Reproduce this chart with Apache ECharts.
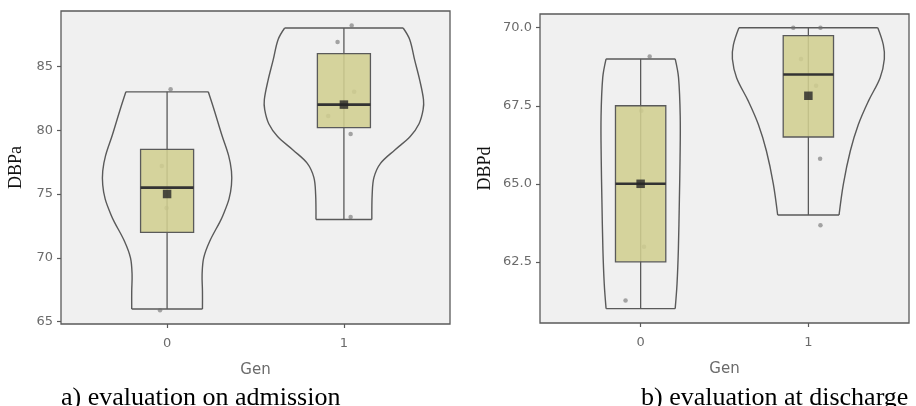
<!DOCTYPE html>
<html>
<head>
<meta charset="utf-8">
<script src="https://cdn.jsdelivr.net/npm/echarts@6/dist/echarts.min.js"></script>
<style>
html,body{margin:0;padding:0;background:#fff;}
#chart{width:916px;height:406px;}
</style>
</head>
<body>
<div id="chart"></div>
<script>
// ---- data ----
const genLabels = ['0', '1'];

// panel a) DBPa : [min, q1, median, q3, max]
const boxA = [[66, 72, 75.5, 78.5, 83], [73, 80.2, 82, 86, 88]];
const meanA = [75, 82];
// jittered raw points [gen + jitter, value]
const pointsA = [
  [0.02, 83.2], [-0.03, 77.2], [-0.003, 73.9], [-0.04, 65.9],
  [1.044, 88.2], [0.964, 86.9], [1.058, 83.0], [0.911, 81.1], [1.038, 79.7], [1.038, 73.2]
];
// violin outlines [value, half width] from top to bottom
const violinA0 = [[83.0, 0.233], [81.5, 0.268], [79.6, 0.31], [78.0, 0.348], [76.8, 0.364], [75.7, 0.364],
  [74.6, 0.35], [73.3, 0.315], [72.8, 0.298], [71.3, 0.241], [70.0, 0.207], [68.7, 0.198], [67.4, 0.2], [66.0, 0.2]];
const violinA1 = [[88.0, 0.335], [87.1, 0.372], [85.5, 0.40], [83.9, 0.429], [82.4, 0.45], [81.6, 0.448],
  [80.5, 0.425], [79.5, 0.375], [78.45, 0.288], [77.4, 0.207], [76.3, 0.17], [75.0, 0.16], [73.0, 0.158]];
const ticksA = [65, 70, 75, 80, 85];

// panel b) DBPd
const boxB = [[61, 62.5, 65, 67.5, 69], [64, 66.5, 68.5, 69.75, 70]];
const meanB = [65, 67.82];
const pointsB = [
  [0.054, 69.08], [0.004, 67.34], [0.02, 62.98], [-0.09, 61.26],
  [0.91, 70.0], [1.072, 70.0], [0.956, 69.0], [1.046, 68.14], [1.07, 65.8], [1.072, 63.67]
];
const violinB0 = [[69.0, 0.206], [68.4, 0.226], [67.15, 0.236], [65.8, 0.235], [64.5, 0.231], [62.9, 0.225],
  [61.8, 0.217], [61.0, 0.206]];
const violinB1 = [[70.0, 0.414], [69.45, 0.447], [69.0, 0.453], [68.4, 0.428], [67.65, 0.358], [66.9, 0.298],
  [66.05, 0.25], [65.0, 0.209], [64.0, 0.183]];
const ticksB = [62.5, 65, 67.5, 70];

// ---- styles ----
const LINE = '#5a5a5a';
const BOXFILL = 'rgba(208,206,143,0.88)';
const BOXW = 0.3;

function violinRender(profiles) {
  return function (params, api) {
    const x = api.value(0);
    const prof = profiles[params.dataIndex];
    const left = prof.map(p => api.coord([x - p[1], p[0]]));
    const right = prof.map(p => api.coord([x + p[1], p[0]]));
    const n = prof.length;
    const st = { stroke: LINE, lineWidth: 1.4, fill: null };
    return {
      type: 'group',
      children: [
        { type: 'polyline', shape: { points: left, smooth: 0.35 }, style: st },
        { type: 'polyline', shape: { points: right, smooth: 0.35 }, style: st },
        { type: 'line', shape: { x1: left[0][0], y1: left[0][1], x2: right[0][0], y2: right[0][1] }, style: st },
        { type: 'line', shape: { x1: left[n - 1][0], y1: left[n - 1][1], x2: right[n - 1][0], y2: right[n - 1][1] }, style: st }
      ]
    };
  };
}

function boxRender(params, api) {
  const x = api.value(0);
  const mn = api.coord([x, api.value(1)]);
  const q1l = api.coord([x - BOXW / 2, api.value(2)]);
  const medl = api.coord([x - BOXW / 2, api.value(3)]);
  const medr = api.coord([x + BOXW / 2, api.value(3)]);
  const q3r = api.coord([x + BOXW / 2, api.value(4)]);
  const mx = api.coord([x, api.value(5)]);
  return {
    type: 'group',
    children: [
      { type: 'line', shape: { x1: mn[0], y1: mn[1], x2: mx[0], y2: mx[1] }, style: { stroke: LINE, lineWidth: 1.3 } },
      { type: 'rect', shape: { x: q1l[0], y: q3r[1], width: q3r[0] - q1l[0], height: q1l[1] - q3r[1] },
        style: { fill: BOXFILL, stroke: LINE, lineWidth: 1.3 } },
      { type: 'line', shape: { x1: medl[0], y1: medl[1], x2: medr[0], y2: medr[1] }, style: { stroke: '#333', lineWidth: 2.6 } }
    ]
  };
}

function xAxisFor(gi, gap) {
  return {
    gridIndex: gi, type: 'value', min: -0.6, max: 1.6, position: 'bottom',
    axisLine: { show: false, onZero: false },
    axisTick: { show: true, customValues: [0, 1], length: 4, lineStyle: { color: LINE, width: 1.2 } },
    axisLabel: { customValues: [0, 1], formatter: v => genLabels[Math.round(v)], margin: 13,
      color: '#6b6b6b', fontFamily: 'DejaVu Sans', fontSize: 13 },
    splitLine: { show: false },
    name: 'Gen', nameLocation: 'middle', nameGap: 39,
    nameTextStyle: { color: '#6b6b6b', fontFamily: 'DejaVu Sans', fontSize: 15 }
  };
}
function yAxisFor(gi, min, max, ticks, name, gap, fmt) {
  return {
    gridIndex: gi, type: 'value', min: min, max: max, position: 'left',
    axisLine: { show: false, onZero: false },
    axisTick: { show: true, customValues: ticks, length: 4, lineStyle: { color: LINE, width: 1.2 } },
    axisLabel: { customValues: ticks, formatter: fmt, margin: 8,
      color: '#6b6b6b', fontFamily: 'DejaVu Sans', fontSize: 13 },
    splitLine: { show: false },
    name: name, nameLocation: 'middle', nameGap: gap,
    nameTextStyle: { color: '#111', fontFamily: 'Liberation Serif', fontSize: 18 }
  };
}

const chart = echarts.init(document.getElementById('chart'), null, { renderer: 'canvas' });
const option = {
  animation: false,
  backgroundColor: '#fff',
  grid: [
    { left: 61, top: 11, width: 389, height: 313, show: true, backgroundColor: '#f0f0f0', borderColor: LINE, borderWidth: 1.3 },
    { left: 540, top: 14, width: 369, height: 309, show: true, backgroundColor: '#f0f0f0', borderColor: LINE, borderWidth: 1.3 }
  ],
  xAxis: [xAxisFor(0), xAxisFor(1)],
  yAxis: [
    yAxisFor(0, 64.82, 89.33, ticksA, 'DBPa', 36, v => String(v)),
    yAxisFor(1, 60.54, 70.44, ticksB, 'DBPd', 46, v => v.toFixed(1))
  ],
  series: [
    { type: 'custom', xAxisIndex: 0, yAxisIndex: 0, z: 2, data: [[0], [1]], encode: { x: 0 },
      renderItem: violinRender([violinA0, violinA1]) },
    { type: 'scatter', xAxisIndex: 0, yAxisIndex: 0, z: 3, data: pointsA, symbolSize: 4.5,
      itemStyle: { color: 'rgba(110,110,110,0.75)' } },
    { type: 'custom', xAxisIndex: 0, yAxisIndex: 0, z: 4, data: boxA.map((b, i) => [i].concat(b)),
      encode: { x: 0, y: [1, 2, 3, 4, 5] }, renderItem: boxRender },
    { type: 'scatter', xAxisIndex: 0, yAxisIndex: 0, z: 5, data: meanA.map((m, i) => [i, m]), symbol: 'rect',
      symbolSize: 8.5, itemStyle: { color: '#252525' } },

    { type: 'custom', xAxisIndex: 1, yAxisIndex: 1, z: 2, data: [[0], [1]], encode: { x: 0 },
      renderItem: violinRender([violinB0, violinB1]) },
    { type: 'scatter', xAxisIndex: 1, yAxisIndex: 1, z: 3, data: pointsB, symbolSize: 4.5,
      itemStyle: { color: 'rgba(110,110,110,0.75)' } },
    { type: 'custom', xAxisIndex: 1, yAxisIndex: 1, z: 4, data: boxB.map((b, i) => [i].concat(b)),
      encode: { x: 0, y: [1, 2, 3, 4, 5] }, renderItem: boxRender },
    { type: 'scatter', xAxisIndex: 1, yAxisIndex: 1, z: 5, data: meanB.map((m, i) => [i, m]), symbol: 'rect',
      symbolSize: 8.5, itemStyle: { color: '#252525' } }
  ],
  graphic: [
    { type: 'text', left: 61, top: 385, style: { text: 'a) evaluation on admission', font: '26px "Liberation Serif"', fill: '#000' } },
    { type: 'text', left: 641, top: 385, style: { text: 'b) evaluation at discharge', font: '26px "Liberation Serif"', fill: '#000' } }
  ]
};
chart.setOption(option);
</script>
</body>
</html>
